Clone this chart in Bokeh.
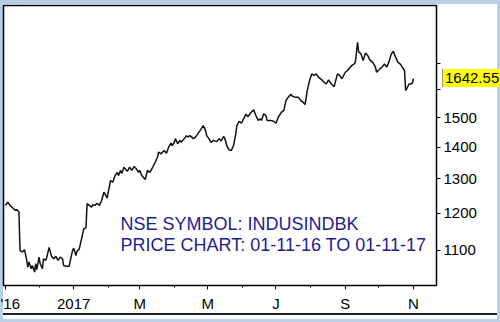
import math
import pandas as pd
from bokeh.plotting import figure
from bokeh.models import Range1d, FixedTicker, Label, Div
from bokeh.embed import file_html
from bokeh.resources import INLINE

# ---------------- data ----------------
start_date = "2016-11-01"
days_since_start = [
    0, 2, 4, 7, 9, 10, 12, 13, 15, 17, 19, 20, 21, 23, 24, 26, 27, 28, 30, 31,
    33, 34, 36, 37, 39, 41, 43, 45, 47, 49, 51, 52, 54, 57, 58, 60, 61, 63, 64, 66,
    68, 70, 72, 73, 75, 77, 78, 80, 82, 84, 86, 88, 89, 91, 92, 94, 96, 98, 100, 101,
    103, 104, 106, 109, 111, 113, 115, 117, 119, 120, 122, 125, 127, 129, 131, 134, 136, 137, 139, 142,
    144, 146, 148, 149, 151, 152, 154, 156, 157, 160, 162, 163, 165, 168, 170, 172, 174, 177, 179, 180,
    182, 184, 186, 189, 191, 193, 195, 196, 198, 200, 202, 204, 206, 207, 209, 211, 213, 215, 217, 219,
    222, 224, 226, 228, 229, 231, 233, 234, 237, 240, 242, 244, 247, 249, 251, 253, 255, 257, 259, 262,
    264, 266, 268, 270, 272, 274, 276, 278, 280, 283, 285, 287, 289, 291, 294, 297, 299, 301, 304, 306,
    308, 310, 312, 313, 315, 316, 318, 320, 322, 324, 326, 329, 331, 332, 335, 337, 339, 341, 343, 345,
    347, 349, 351, 353, 355, 357, 358, 359, 361, 362, 364, 365,
]
close = [
    1222, 1231, 1222, 1213, 1208, 1210, 1203, 1100, 1096, 1102, 1075, 1058, 1071, 1054, 1062, 1046, 1067, 1052, 1083, 1067,
    1054, 1079, 1075, 1083, 1108, 1087, 1079, 1085, 1075, 1083, 1079, 1062, 1060, 1060, 1075, 1100, 1106, 1087, 1098, 1104,
    1130, 1157, 1160, 1227, 1222, 1217, 1224, 1222, 1228, 1222, 1236, 1260, 1255, 1243, 1262, 1295, 1290, 1310, 1320, 1310,
    1326, 1316, 1336, 1323, 1336, 1326, 1338, 1331, 1320, 1326, 1310, 1298, 1326, 1320, 1331, 1352, 1368, 1384, 1378, 1389,
    1380, 1400, 1413, 1405, 1416, 1428, 1411, 1422, 1416, 1428, 1438, 1433, 1438, 1428, 1433, 1444, 1455, 1472, 1455, 1438,
    1428, 1415, 1422, 1418, 1428, 1420, 1435, 1431, 1405, 1391, 1389, 1405, 1444, 1472, 1487, 1480, 1495, 1511, 1503, 1515,
    1527, 1507, 1490, 1495, 1490, 1513, 1507, 1490, 1490, 1487, 1480, 1501, 1519, 1525, 1561, 1573, 1583, 1576, 1573, 1573,
    1561, 1555, 1546, 1598, 1635, 1661, 1655, 1661, 1648, 1638, 1629, 1622, 1638, 1625, 1612, 1661, 1655, 1642, 1667, 1674,
    1685, 1694, 1700, 1707, 1788, 1747, 1741, 1713, 1744, 1734, 1716, 1703, 1687, 1667, 1681, 1687, 1700, 1687, 1707, 1738,
    1751, 1727, 1707, 1700, 1687, 1674, 1598, 1604, 1622, 1622, 1625, 1642.55,
]
last_close = 1642.55

y_ticks = [1100, 1200, 1300, 1400, 1500, 1600, 1700]
y_tick_labels = ["1100", "1200", "1300", "1400", "1500", "", ""]

title_lines = ["NSE SYMBOL: INDUSINDBK", "PRICE CHART: 01-11-16 TO 01-11-17"]

# ---------------- axis ticks from the calendar ----------------
start = pd.Timestamp(start_date)
month_starts = pd.date_range("2016-11-01", "2017-11-01", freq="MS")
month_days = [int((d - start).days) for d in month_starts]
major_days = month_days[::2]
minor_days = month_days[1::2]
major_labels = {}
for i, d in enumerate(month_starts[::2]):
    if i == 0:
        major_labels[major_days[i]] = "'" + d.strftime("%y")
    elif d.month == 1:
        major_labels[major_days[i]] = str(d.year)
    else:
        major_labels[major_days[i]] = d.strftime("%b")[0]

FONT = "Liberation Sans"
W, H = 500, 322
B_LEFT, B_RIGHT, B_TOP, B_BOTTOM = 3, 64, 5, 37
Y_MIN, Y_MAX = 1013.7, 1948

p = figure(
    width=W, height=H,
    x_range=Range1d(-1.8, 385.6),
    y_range=Range1d(Y_MIN, Y_MAX),
    y_axis_type="log", y_axis_location="right",
    output_backend="svg", toolbar_location=None,
    min_border_left=B_LEFT, min_border_right=B_RIGHT,
    min_border_top=B_TOP, min_border_bottom=B_BOTTOM,
)
p.border_fill_color = None
p.background_fill_color = "white"
p.outline_line_color = "black"
p.outline_line_width = 1.5
p.xgrid.visible = False
p.ygrid.visible = False

p.styles = {
    "outline": "3px solid #b9cfe6",
    "outline-offset": "-3px",
    "background": "linear-gradient(to bottom, #b9cfe6 0px, #b9cfe6 4px, #ffffff 4px, #ffffff 313px, "
                  "#222222 313px, #222222 315px, #ffffff 315px)",
}

p.line(days_since_start, close, line_color="#111111", line_width=1.5)

# x axis
xa = p.xaxis[0]
xa.ticker = FixedTicker(ticks=major_days, minor_ticks=minor_days)
xa.major_label_overrides = major_labels
xa.major_tick_out = 4
xa.major_tick_in = 0
xa.minor_tick_out = 2
xa.minor_tick_in = 0
xa.axis_line_color = "black"
xa.major_tick_line_color = "black"
xa.minor_tick_line_color = "black"
xa.major_label_text_font = FONT
xa.major_label_text_font_size = "15px"
xa.major_label_text_color = "black"
xa.major_label_standoff = 5

# y axis (log scale, right side)
ya = p.yaxis[0]
ya.ticker = FixedTicker(ticks=y_ticks)
ya.major_label_overrides = {t: s for t, s in zip(y_ticks, y_tick_labels)}
ya.minor_tick_line_color = None
ya.major_tick_out = 4
ya.major_tick_in = 0
ya.axis_line_color = "black"
ya.major_tick_line_color = "black"
ya.major_label_text_font = FONT
ya.major_label_text_font_size = "15px"
ya.major_label_text_color = "black"
ya.major_label_standoff = 3

# chart caption
for i, line in enumerate(title_lines):
    p.add_layout(Label(
        x=117, y=62 - 21 * i, x_units="screen", y_units="screen",
        text=line, text_font=FONT, text_font_size="18px",
        text_color="#1e1e8c", text_baseline="alphabetic", text_align="left",
    ))

# last price tag, placed outside the frame at the log-scale position of last_close
frame_h = H - B_TOP - B_BOTTOM
tag_h = 18
tag_center = B_TOP + frame_h * math.log(Y_MAX / last_close) / math.log(Y_MAX / Y_MIN)
tag = Div(
    text=f"{last_close:.2f}", margin=0,
    styles={
        "position": "absolute",
        "left": f"{W - B_RIGHT + 6}px",
        "top": f"{tag_center - tag_h / 2:.1f}px",
        "width": "60px",
        "height": f"{tag_h}px",
        "line-height": f"{tag_h}px",
        "background-color": "#ffff00",
        "border-left": "1px solid #9a9a60",
        "padding-left": "2px",
        "font-family": FONT,
        "font-size": "15px",
        "color": "black",
        "white-space": "nowrap",
        "overflow": "hidden",
        "box-sizing": "border-box",
    },
)
p.elements = [tag]

open("out.html", "w").write(file_html(p, INLINE))
